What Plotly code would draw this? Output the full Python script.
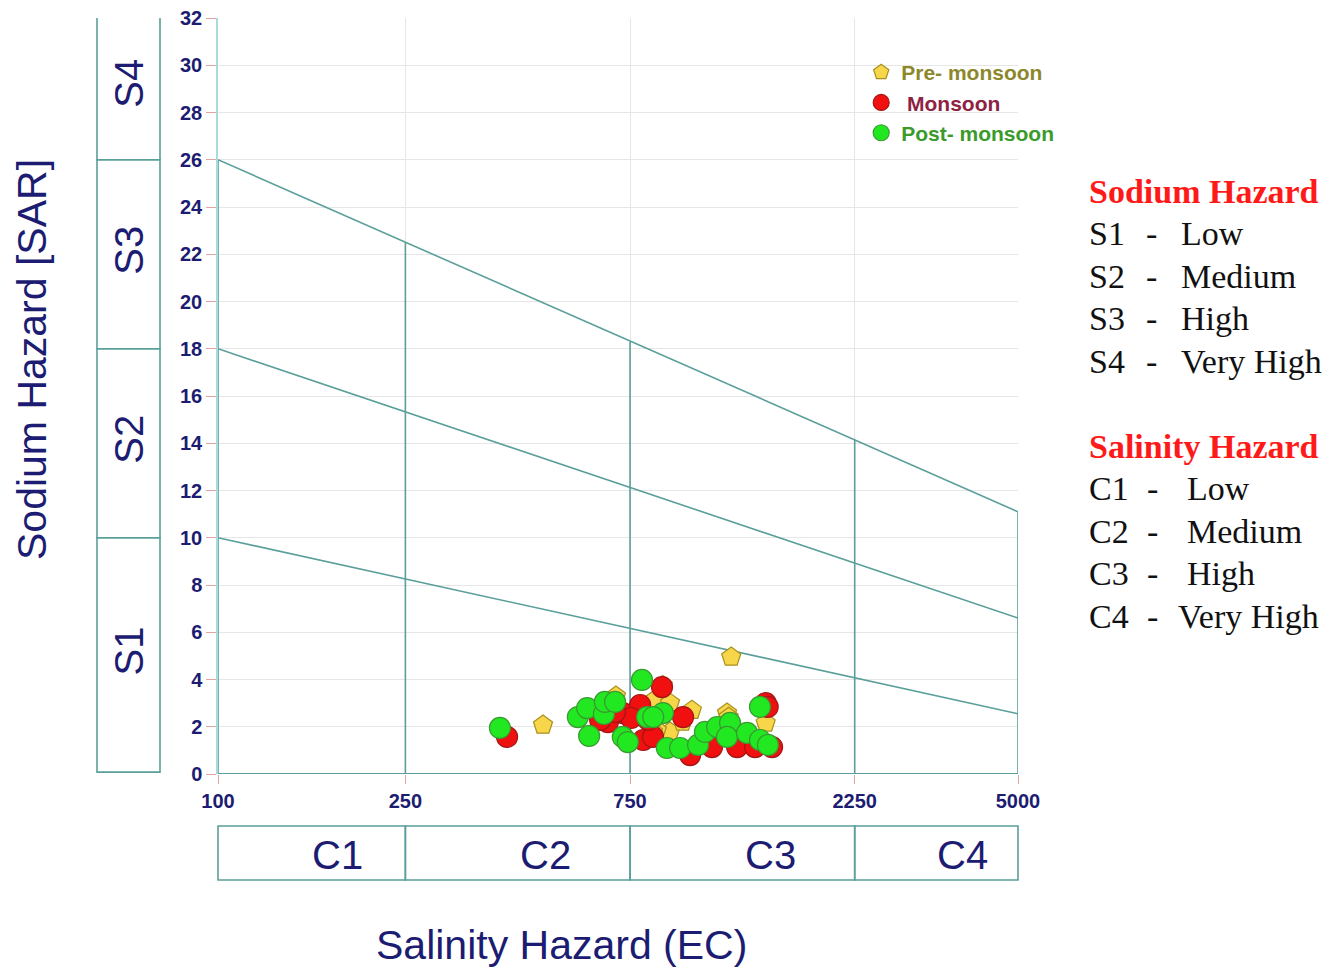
import numpy as np
import plotly.graph_objects as go

# ---------------- data ----------------
pre_ec = [490, 1230, 700, 845, 912, 1015, 912, 1205, 1456, 855, 839, 1215, 970, 880]
pre_sar = [2.07, 4.95, 3.30, 3.13, 3.00, 2.70, 1.78, 2.58, 2.16, 1.85, 1.78, 2.40, 2.20, 3.75]

mon_ec = [411, 673, 724, 788, 754, 800, 877, 972, 839, 1006, 1120, 1266, 1382, 1456, 1502, 697, 648, 820, 1470]
mon_sar = [1.57, 2.20, 2.58, 2.92, 2.37, 1.44, 3.68, 2.41, 1.57, 0.80, 1.14, 1.14, 1.14, 3.00, 1.14, 2.62, 2.29, 2.29, 2.84]

post_ec = [397, 581, 608, 614, 660, 663, 697, 724, 742, 795, 815, 881, 898, 958, 1046, 1082, 1148, 1223, 1205, 1329, 1416, 1416, 1472, 840]
post_sar = [1.95, 2.41, 2.79, 1.61, 2.54, 3.05, 3.05, 1.57, 1.35, 3.98, 2.41, 2.58, 1.10, 1.10, 1.23, 1.78, 1.99, 2.16, 1.57, 1.74, 2.84, 1.44, 1.23, 2.41]

# USSL class boundaries
ec_bounds = [100, 250, 750, 2250, 5000]
line_s12 = [10.0, 2.55]
line_s23 = [18.0, 6.6]
line_s34 = [26.0, 11.1]
vert_tops = [26.0, 22.5, 18.3, 14.15, 11.1]
s_bounds = [0.08, 10, 18, 26, 32.13]
s_labels = ["S1", "S2", "S3", "S4"]
c_labels = ["C1", "C2", "C3", "C4"]
x_ticks = [100, 250, 750, 2250, 5000]
y_ticks = list(range(0, 33, 2))

sodium_rows = [("S1", "Low"), ("S2", "Medium"), ("S3", "High"), ("S4", "Very High")]
salinity_rows = [("C1", "Low"), ("C2", "Medium"), ("C3", "High"), ("C4", "Very High")]

TEAL = "#5a9f9a"
NAVY = "#1c1c72"
SANS = "Arial, Liberation Sans, sans-serif"
SERIF = "Times New Roman, Liberation Serif, serif"

fig = go.Figure()

# boundary lines
for ys in (line_s12, line_s23, line_s34):
    fig.add_trace(go.Scatter(x=[ec_bounds[0], ec_bounds[-1]], y=ys, mode="lines",
                             line=dict(color=TEAL, width=1.6), showlegend=False, hoverinfo="skip"))
for xv, top in zip(ec_bounds, vert_tops):
    fig.add_trace(go.Scatter(x=[xv, xv], y=[0, top], mode="lines",
                             line=dict(color=TEAL, width=1.6), showlegend=False, hoverinfo="skip"))
fig.add_trace(go.Scatter(x=[ec_bounds[0], ec_bounds[-1]], y=[0, 0], mode="lines",
                         line=dict(color=TEAL, width=2), showlegend=False, hoverinfo="skip"))

# data
fig.add_trace(go.Scatter(x=pre_ec, y=pre_sar, mode="markers",
                         name="<span style='color:#8c872c'>Pre- monsoon</span>",
                         marker=dict(symbol="pentagon", size=20, color="#f7d64a",
                                     line=dict(color="#a8901e", width=1.2))))
fig.add_trace(go.Scatter(x=mon_ec, y=mon_sar, mode="markers",
                         name="<span style='color:#8e2243'> Monsoon</span>",
                         marker=dict(symbol="circle", size=21, color="#f01010",
                                     line=dict(color="#a51515", width=1.2))))
fig.add_trace(go.Scatter(x=post_ec, y=post_sar, mode="markers",
                         name="<span style='color:#3b9a2c'>Post- monsoon</span>",
                         marker=dict(symbol="circle", size=21, color="#22e822",
                                     line=dict(color="#3a9a30", width=1.2))))

lo, hi = np.log10(ec_bounds[0]), np.log10(ec_bounds[-1])
def xp(v):
    return (np.log10(v) - lo) / (hi - lo)

def px_x(p):
    return (p - 218) / 800
def px_y(p):
    return (774 - p) / 756

shapes = []
# S boxes (left)
for i in range(4):
    shapes.append(dict(type="rect", xref="paper", yref="y", x0=px_x(97), x1=px_x(160),
                       y0=s_bounds[i], y1=s_bounds[i + 1], line=dict(color=TEAL, width=1.6)))
# C boxes (bottom)
for i in range(4):
    shapes.append(dict(type="rect", xref="paper", yref="paper", x0=xp(ec_bounds[i]), x1=xp(ec_bounds[i + 1]),
                       y0=px_y(880), y1=px_y(826), line=dict(color=TEAL, width=1.6)))

ann = []
for i, lab in enumerate(s_labels):
    ann.append(dict(xref="paper", yref="y", x=px_x(129), y=(s_bounds[i] + s_bounds[i + 1]) / 2 + 0.15,
                    xanchor="center", yanchor="middle",
                    text=lab, showarrow=False, textangle=-90,
                    font=dict(family=SANS, size=40, color=NAVY)))
c_centers = [337, 545, 770, 962]
for lab, cx in zip(c_labels, c_centers):
    ann.append(dict(xref="paper", yref="paper", x=px_x(cx), y=px_y(855), xanchor="center", yanchor="middle",
                    text=lab, showarrow=False, font=dict(family=SANS, size=40, color=NAVY)))

# axis titles
ann.append(dict(xref="paper", yref="paper", x=px_x(32), y=px_y(360), xanchor="center", yanchor="middle",
                text="Sodium Hazard [SAR]", showarrow=False, textangle=-90,
                font=dict(family=SANS, size=41, color=NAVY)))
ann.append(dict(xref="paper", yref="paper", x=px_x(561), y=px_y(945), xanchor="center", yanchor="middle",
                text="Salinity Hazard (EC)", showarrow=False,
                font=dict(family=SANS, size=41, color=NAVY)))

# right side text blocks
def block(title, ytitle, rows, dash_x, word_x):
    ann.append(dict(xref="paper", yref="paper", x=px_x(1087), y=px_y(ytitle), xanchor="left", yanchor="middle",
                    text="<b>" + title + "</b>", showarrow=False,
                    font=dict(family=SERIF, size=34, color="#ff1a1a")))
    for k, (a, b) in enumerate(rows):
        yy = px_y(ytitle + 42.5 * (k + 1))
        for txt, xx in ((a, 1087), ("-", dash_x[k]), (b, word_x[k])):
            ann.append(dict(xref="paper", yref="paper", x=px_x(xx), y=yy, xanchor="left", yanchor="middle",
                            text=txt, showarrow=False, font=dict(family=SERIF, size=34, color="#111111")))

block("Sodium Hazard", 191, sodium_rows, [1144, 1144, 1144, 1144], [1179, 1179, 1179, 1179])
block("Salinity Hazard", 446, salinity_rows, [1145, 1145, 1145, 1145], [1185, 1185, 1185, 1176])

fig.update_layout(
    width=1338, height=973, autosize=False,
    margin=dict(l=218, r=320, t=18, b=199, pad=0, autoexpand=False),
    paper_bgcolor="white", plot_bgcolor="white",
    shapes=shapes, annotations=ann,
    showlegend=True,
    legend=dict(x=0.804, y=0.955, xanchor="left", yanchor="top", bgcolor="rgba(0,0,0,0)",
                font=dict(family=SANS, size=21, weight="bold"), tracegroupgap=0, itemwidth=30),
    xaxis=dict(type="log", range=[lo, hi], tickvals=x_ticks, ticktext=[str(v) for v in x_ticks],
               automargin=False,
               showgrid=True, gridcolor="#e6e6e6", zeroline=False, showline=False,
               ticks="outside", ticklen=9, tickcolor="#e4a4a4",
               tickfont=dict(family=SANS, size=20, color=NAVY, weight="bold")),
    yaxis=dict(range=[0, 32], tickvals=y_ticks, showgrid=True, gridcolor="#e6e6e6",
               automargin=False,
               zeroline=False, showline=True, linecolor="#a8dcdc", linewidth=1.5,
               ticks="outside", ticklen=10, tickcolor="#e4a4a4",
               tickfont=dict(family=SANS, size=20, color=NAVY, weight="bold")),
)

fig.write_html("out.html")
